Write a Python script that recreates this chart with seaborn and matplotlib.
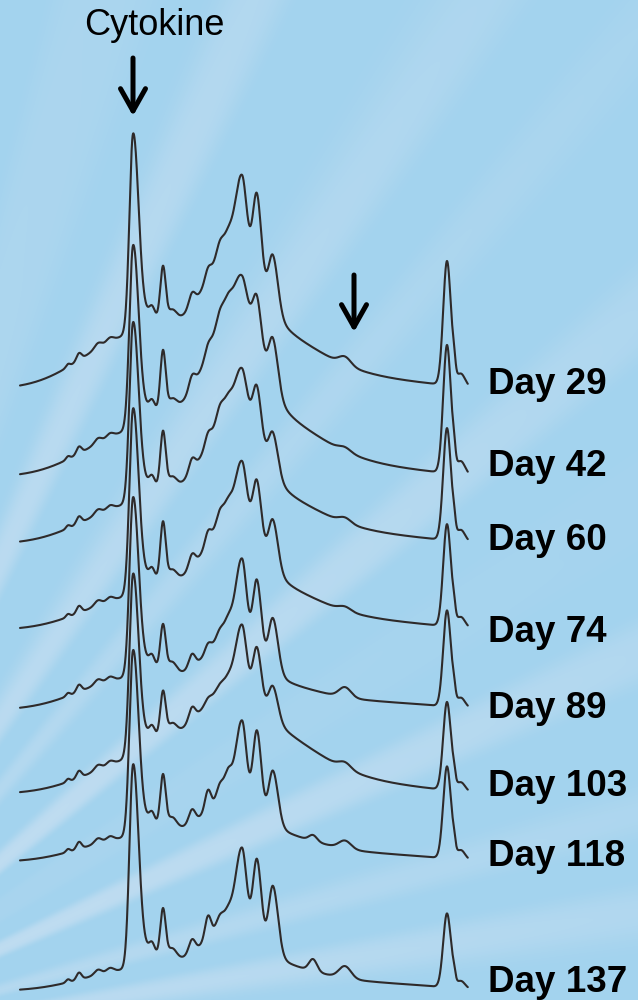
import numpy as np
import pandas as pd
import matplotlib
matplotlib.use("Agg")
import matplotlib.pyplot as plt
import seaborn as sns

sns.set_theme(style="white")
plt.rcParams["font.family"] = ["Liberation Sans", "DejaVu Sans"]

# ---------------------------------------------------------------- data
days = [29, 42, 60, 74, 89, 103, 118, 137]

# peak table: retention time (min), left width, right width (min, 1 sigma)
peak_rt = {
    "ramp": 12.0, "mid": 23.5, "hump": 23.8, "late": 40.0,
    "cytokine": 13.3, "cyto_tail": 14.0, "p163": 16.3,
    "pA": 24.2, "pB": 25.7, "pC": 27.3, "final": 44.7,
    "p208": 20.8, "p220": 22.0, "p228": 22.8, "p313": 31.3, "p345": 34.5,
    "p68": 6.8, "p79": 7.9, "p98": 9.8, "p110": 11.0,
    "p152": 15.2, "p172": 17.2, "p192": 19.2, "fin_sh": 45.4, "fin_tail": 46.1,
}
peak_wl = {
    "ramp": 4.5, "mid": 6.0, "hump": 2.5, "late": 5.0,
    "cytokine": 0.36, "cyto_tail": 0.5, "p163": 0.27,
    "pA": 0.6, "pB": 0.38, "pC": 0.42, "final": 0.38,
    "p208": 0.3, "p220": 0.35, "p228": 0.35, "p313": 0.4, "p345": 0.6,
    "p68": 0.2, "p79": 0.25, "p98": 0.35, "p110": 0.35,
    "p152": 0.28, "p172": 0.45, "p192": 0.32, "fin_sh": 0.15, "fin_tail": 0.4,
}
peak_wr = dict(peak_wl, mid=7.0, hump=2.0, cytokine=0.52, cyto_tail=1.4,
               pA=0.42, pB=0.42, pC=0.5, final=0.4)

# peak heights per run (mAU)
ramp_h = [40, 31.5, 28, 23, 26, 20.5, 18, 15.5]
mid_h = [75, 80, 65, 58, 35, 80, 37, 35]
hump_h = [78, 100, 80, 65, 48, 35, 33, 40]
cytokine_h = [192, 176, 173, 179, 173, 175, 179, 196]
p163_h = [54, 61, 57, 59, 46, 45, 52, 49]
pA_h = [62, 23, 32, 47, 69, 55, 72, 69]
pB_h = [74, 41, 45, 53, 66, 48, 75, 73]
pC_h = [52, 48, 38, 46, 51, 31, 52, 66]
final_h = [124, 128, 112, 102, 96, 88, 92, 74]
p208_h = [10, 8, 10, 12, 8, 4, 20, 22]
p220_h = [12, 10, 12, 12, 8, 4, 15, 10]
p228_h = [8, 8, 8, 10, 10, 4, 20, 8]
p313_h = [0, 0, 0, 0, 0, 0, 6, 12]
p345_h = [8, 4, 5, 4, 10, 6, 8, 12]
# minor peaks common to every run (mAU)
late_h = 5
minor_h = {"p68": 3, "p79": 7, "p98": 5, "p110": 4,
           "p152": 10, "p172": 12, "p192": 13}

# ---------------------------------------------------------------- layout
stack_offset = [611, 523, 456, 370, 290, 206, 138, 9]
label_y = [606.5, 524.5, 449.5, 358.5, 281.5, 203.5, 134.5, 8.5]


def bigauss(t, name, h):
    rt = peak_rt[name]
    w = np.where(t < rt, peak_wl[name], peak_wr[name])
    return h * np.exp(-0.5 * ((t - rt) / w) ** 2)


t = np.arange(2.0, 46.8, 0.02)
frames = []
for i, d in enumerate(days):
    sig = (bigauss(t, "ramp", ramp_h[i]) + bigauss(t, "mid", mid_h[i])
           + bigauss(t, "hump", hump_h[i]) + bigauss(t, "late", late_h)
           + bigauss(t, "cytokine", cytokine_h[i])
           + bigauss(t, "cyto_tail", 0.1 * cytokine_h[i])
           + bigauss(t, "p163", p163_h[i])
           + bigauss(t, "pA", pA_h[i]) + bigauss(t, "pB", pB_h[i])
           + bigauss(t, "pC", pC_h[i])
           + bigauss(t, "final", final_h[i])
           + bigauss(t, "fin_sh", 0.1 * final_h[i])
           + bigauss(t, "fin_tail", 0.1 * final_h[i])
           + bigauss(t, "p208", p208_h[i]) + bigauss(t, "p220", p220_h[i])
           + bigauss(t, "p228", p228_h[i]) + bigauss(t, "p313", p313_h[i])
           + bigauss(t, "p345", p345_h[i]))
    for name, h in minor_h.items():
        sig = sig + bigauss(t, name, h)
    frames.append(pd.DataFrame({"time": t, "signal": sig + stack_offset[i],
                                "day": d}))
df = pd.concat(frames, ignore_index=True)

# ---------------------------------------------------------------- figure
fig = plt.figure(figsize=(6.38, 10), dpi=100)
ax = fig.add_axes([0, 0, 1, 1])

# soft sunburst backdrop fanning out from the lower left
H, W = 1000, 638
yy, xx = np.mgrid[0:H, 0:W].astype(float)
ang = np.arctan2(1050 - yy, xx + 220)
s = (np.cos(ang * 44.0) + 0.55 * np.cos(ang * 25.0 + 1.3)
     + 0.35 * np.cos(ang * 71.0 + 0.4))
band = np.clip((s + 0.6) / 2.5, 0, 1)
band = band * band * (3 - 2 * band)
base = np.array([163, 211, 238]) / 255
light = np.array([202, 224, 242]) / 255
shade = np.clip(1.15 - xx / W * 0.7 - (1 - yy / H) * 0.45, 0, 1)
a = 0.7 * band * (0.35 + 0.65 * shade)
img = base * (1 - a[..., None]) + light * a[..., None]
ax.imshow(img, extent=(0, 63.8, 0, 1000), aspect="auto", zorder=0,
          interpolation="bilinear")

sns.lineplot(data=df, x="time", y="signal", units="day", estimator=None,
             color="#2e2a2a", lw=1.5, sort=False, legend=False, ax=ax,
             zorder=2)
ax.set_xlim(0, 63.8)
ax.set_ylim(0, 1000)
ax.axis("off")

for d, y in zip(days, label_y):
    ax.text(48.8, y, f"Day {d}", fontsize=26.5, fontweight="bold",
            va="baseline", ha="left", color="black", zorder=3)

ax.text(15.4, 965, "Cytokine", fontsize=26, ha="center", va="baseline",
        color="black", zorder=3)

arrow = dict(arrowstyle="->, head_length=0.8, head_width=0.45", lw=3.6,
             color="black", shrinkA=0, shrinkB=0, mutation_scale=20)
ax.annotate("", xy=(peak_rt["cytokine"], 884), xytext=(peak_rt["cytokine"], 942),
            arrowprops=arrow, zorder=3)
ax.annotate("", xy=(35.4, 668), xytext=(35.4, 725), arrowprops=arrow, zorder=3)

fig.savefig("out.png", dpi=100)
